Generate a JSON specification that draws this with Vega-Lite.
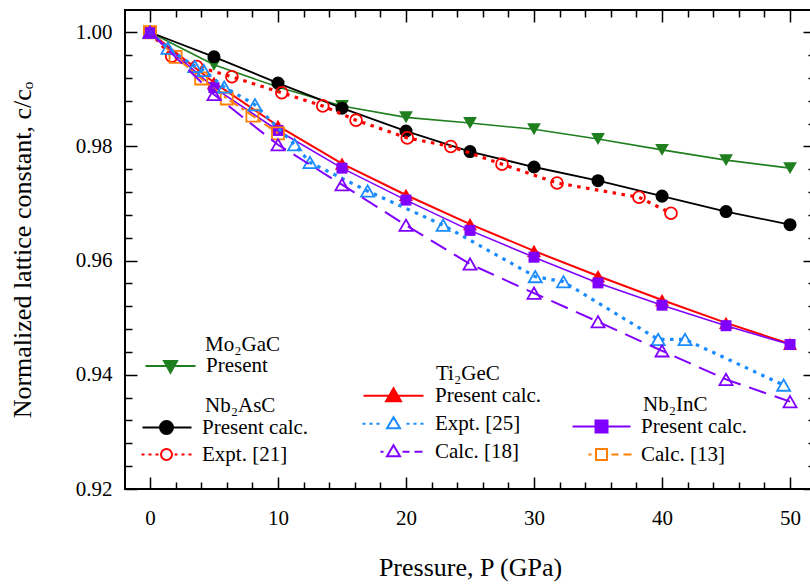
{
  "$schema": "https://vega.github.io/schema/vega-lite/v6.json",
  "width": 690,
  "height": 479,
  "autosize": {"type": "none"},
  "padding": {"left": 125, "top": 10, "right": -5, "bottom": 98},
  "datasets": {
    "d": [
      {"s": "MoP", "P": 0, "v": 1.0}, {"s": "MoP", "P": 5, "v": 0.9943}, {"s": "MoP", "P": 10, "v": 0.9904}, {"s": "MoP", "P": 15, "v": 0.9871}, {"s": "MoP", "P": 20, "v": 0.9851}, {"s": "MoP", "P": 25, "v": 0.9841}, {"s": "MoP", "P": 30, "v": 0.983}, {"s": "MoP", "P": 35, "v": 0.9813}, {"s": "MoP", "P": 40, "v": 0.9794}, {"s": "MoP", "P": 45, "v": 0.9776}, {"s": "MoP", "P": 50, "v": 0.9762},
      {"s": "AsP", "P": 0, "v": 1.0}, {"s": "AsP", "P": 5, "v": 0.9957}, {"s": "AsP", "P": 10, "v": 0.9911}, {"s": "AsP", "P": 15, "v": 0.9867}, {"s": "AsP", "P": 20, "v": 0.9827}, {"s": "AsP", "P": 25, "v": 0.9791}, {"s": "AsP", "P": 30, "v": 0.9764}, {"s": "AsP", "P": 35, "v": 0.974}, {"s": "AsP", "P": 40, "v": 0.9713}, {"s": "AsP", "P": 45, "v": 0.9686}, {"s": "AsP", "P": 50, "v": 0.9663},
      {"s": "AsE", "P": 0, "v": 1.0}, {"s": "AsE", "P": 1.7, "v": 0.9958}, {"s": "AsE", "P": 3.65, "v": 0.994}, {"s": "AsE", "P": 6.4, "v": 0.9922}, {"s": "AsE", "P": 10.3, "v": 0.9894}, {"s": "AsE", "P": 13.5, "v": 0.9871}, {"s": "AsE", "P": 16.1, "v": 0.9846}, {"s": "AsE", "P": 20.1, "v": 0.9815}, {"s": "AsE", "P": 23.5, "v": 0.98}, {"s": "AsE", "P": 27.5, "v": 0.9769}, {"s": "AsE", "P": 31.8, "v": 0.9736}, {"s": "AsE", "P": 38.2, "v": 0.9711}, {"s": "AsE", "P": 40.7, "v": 0.9683},
      {"s": "TiP", "P": 0, "v": 1.0}, {"s": "TiP", "P": 5, "v": 0.9912}, {"s": "TiP", "P": 10, "v": 0.9836}, {"s": "TiP", "P": 15, "v": 0.977}, {"s": "TiP", "P": 20, "v": 0.9715}, {"s": "TiP", "P": 25, "v": 0.9664}, {"s": "TiP", "P": 30, "v": 0.9617}, {"s": "TiP", "P": 35, "v": 0.9573}, {"s": "TiP", "P": 40, "v": 0.9531}, {"s": "TiP", "P": 45, "v": 0.9491}, {"s": "TiP", "P": 50, "v": 0.9454},
      {"s": "InP", "P": 0, "v": 1.0}, {"s": "InP", "P": 5, "v": 0.9903}, {"s": "InP", "P": 10, "v": 0.9828}, {"s": "InP", "P": 15, "v": 0.9762}, {"s": "InP", "P": 20, "v": 0.9706}, {"s": "InP", "P": 25, "v": 0.9653}, {"s": "InP", "P": 30, "v": 0.9606}, {"s": "InP", "P": 35, "v": 0.9561}, {"s": "InP", "P": 40, "v": 0.9522}, {"s": "InP", "P": 45, "v": 0.9486}, {"s": "InP", "P": 50, "v": 0.9453},
      {"s": "InC", "P": 0, "v": 1.0}, {"s": "InC", "P": 2, "v": 0.9957}, {"s": "InC", "P": 4, "v": 0.9919}, {"s": "InC", "P": 6, "v": 0.9884}, {"s": "InC", "P": 8, "v": 0.9854}, {"s": "InC", "P": 10, "v": 0.9823},
      {"s": "TiE", "P": 0, "v": 1.0}, {"s": "TiE", "P": 1.4, "v": 0.9972}, {"s": "TiE", "P": 3.5, "v": 0.994}, {"s": "TiE", "P": 4.2, "v": 0.9933}, {"s": "TiE", "P": 5.8, "v": 0.9904}, {"s": "TiE", "P": 8.2, "v": 0.9873}, {"s": "TiE", "P": 11.3, "v": 0.9803}, {"s": "TiE", "P": 12.5, "v": 0.9772}, {"s": "TiE", "P": 17.0, "v": 0.9722}, {"s": "TiE", "P": 22.9, "v": 0.9662}, {"s": "TiE", "P": 30.1, "v": 0.9572}, {"s": "TiE", "P": 32.3, "v": 0.9563}, {"s": "TiE", "P": 39.7, "v": 0.9462}, {"s": "TiE", "P": 41.8, "v": 0.9462}, {"s": "TiE", "P": 49.5, "v": 0.9382},
      {"s": "TiC", "P": 0, "v": 1.0}, {"s": "TiC", "P": 5, "v": 0.9891}, {"s": "TiC", "P": 10, "v": 0.9803}, {"s": "TiC", "P": 15, "v": 0.9733}, {"s": "TiC", "P": 20, "v": 0.9662}, {"s": "TiC", "P": 25, "v": 0.9594}, {"s": "TiC", "P": 30, "v": 0.9543}, {"s": "TiC", "P": 35, "v": 0.9493}, {"s": "TiC", "P": 40, "v": 0.9442}, {"s": "TiC", "P": 45, "v": 0.9392}, {"s": "TiC", "P": 50, "v": 0.9353}
    ]
  },
  "layer": [
    {
      "data": {"name": "d"},
      "mark": {"type": "point", "opacity": 0},
      "encoding": {
        "x": {"field": "P", "type": "quantitative", "scale": {"domain": [-1.95, 51.95], "nice": false, "zero": false},
              "axis": {"orient": "bottom", "values": [0, 10, 20, 30, 40, 50], "tickSize": -12, "labelPadding": 30, "title": "Pressure, P (GPa)", "titlePadding": 26}},
        "y": {"field": "v", "type": "quantitative", "scale": {"domain": [0.92, 1.0039], "nice": false, "zero": false},
              "axis": {"orient": "left", "values": [0.92, 0.94, 0.96, 0.98, 1.0], "format": ".2f", "tickSize": -12, "labelPadding": 25, "title": "Normalized lattice constant, c/cₒ", "titlePadding": 40}}
      }
    },
    {
      "data": {"name": "d"},
      "mark": {"type": "point", "opacity": 0},
      "encoding": {
        "x": {"field": "P", "type": "quantitative", "scale": {"domain": [-1.95, 51.95], "nice": false, "zero": false},
              "axis": {"orient": "bottom", "values": [2, 4, 6, 8, 12, 14, 16, 18, 22, 24, 26, 28, 32, 34, 36, 38, 42, 44, 46, 48], "tickSize": -7, "labels": false, "title": null}},
        "y": {"field": "v", "type": "quantitative", "scale": {"domain": [0.92, 1.0039], "nice": false, "zero": false},
              "axis": {"orient": "left", "values": [0.924, 0.928, 0.932, 0.936, 0.944, 0.948, 0.952, 0.956, 0.964, 0.968, 0.972, 0.976, 0.984, 0.988, 0.992, 0.996], "tickSize": -7, "labels": false, "title": null}}
      }
    },
    {
      "data": {"name": "d"},
      "mark": {"type": "point", "opacity": 0},
      "encoding": {
        "x": {"field": "P", "type": "quantitative", "scale": {"domain": [-1.95, 51.95], "nice": false, "zero": false},
              "axis": {"orient": "top", "values": [0, 10, 20, 30, 40, 50], "tickSize": -12, "labels": false, "title": null}},
        "y": {"field": "v", "type": "quantitative", "scale": {"domain": [0.92, 1.0039], "nice": false, "zero": false},
              "axis": {"orient": "right", "values": [0.92, 0.94, 0.96, 0.98, 1.0], "tickSize": -12, "labels": false, "title": null}}
      }
    },
    {
      "data": {"name": "d"},
      "mark": {"type": "point", "opacity": 0},
      "encoding": {
        "x": {"field": "P", "type": "quantitative", "scale": {"domain": [-1.95, 51.95], "nice": false, "zero": false},
              "axis": {"orient": "top", "values": [2, 4, 6, 8, 12, 14, 16, 18, 22, 24, 26, 28, 32, 34, 36, 38, 42, 44, 46, 48], "tickSize": -7, "labels": false, "title": null}},
        "y": {"field": "v", "type": "quantitative", "scale": {"domain": [0.92, 1.0039], "nice": false, "zero": false},
              "axis": {"orient": "right", "values": [0.924, 0.928, 0.932, 0.936, 0.944, 0.948, 0.952, 0.956, 0.964, 0.968, 0.972, 0.976, 0.984, 0.988, 0.992, 0.996], "tickSize": -7, "labels": false, "title": null}}
      }
    },
    {
      "data": {"name": "d"},
      "transform": [{"filter": "datum.s === 'MoP'"}],
      "encoding": {
        "x": {"field": "P", "type": "quantitative", "axis": null, "scale": {"domain": [-1.95, 51.95], "nice": false, "zero": false}},
        "y": {"field": "v", "type": "quantitative", "axis": null, "scale": {"domain": [0.92, 1.0039], "nice": false, "zero": false}}
      },
      "layer": [
        {"mark": {"type": "line", "color": "#1f7f1f", "strokeWidth": 1.6}},
        {"mark": {"type": "point", "shape": "triangle-down", "filled": true, "color": "#1f7f1f", "size": 190, "opacity": 1}}
      ]
    },
    {
      "data": {"name": "d"},
      "transform": [{"filter": "datum.s === 'AsP'"}],
      "encoding": {
        "x": {"field": "P", "type": "quantitative", "axis": null, "scale": {"domain": [-1.95, 51.95], "nice": false, "zero": false}},
        "y": {"field": "v", "type": "quantitative", "axis": null, "scale": {"domain": [0.92, 1.0039], "nice": false, "zero": false}}
      },
      "layer": [
        {"mark": {"type": "line", "color": "black", "strokeWidth": 1.8}},
        {"mark": {"type": "point", "shape": "circle", "filled": true, "color": "black", "size": 170, "opacity": 1}}
      ]
    },
    {
      "data": {"name": "d"},
      "transform": [{"filter": "datum.s === 'AsE'"}],
      "encoding": {
        "x": {"field": "P", "type": "quantitative", "axis": null, "scale": {"domain": [-1.95, 51.95], "nice": false, "zero": false}},
        "y": {"field": "v", "type": "quantitative", "axis": null, "scale": {"domain": [0.92, 1.0039], "nice": false, "zero": false}}
      },
      "layer": [
        {"mark": {"type": "line", "color": "#ff0000", "strokeWidth": 3.2, "strokeDash": [3.5, 5.5]}},
        {"mark": {"type": "point", "shape": "circle", "filled": false, "color": "#ff0000", "size": 140, "strokeWidth": 1.8, "opacity": 1}}
      ]
    },
    {
      "data": {"name": "d"},
      "transform": [{"filter": "datum.s === 'TiP'"}],
      "encoding": {
        "x": {"field": "P", "type": "quantitative", "axis": null, "scale": {"domain": [-1.95, 51.95], "nice": false, "zero": false}},
        "y": {"field": "v", "type": "quantitative", "axis": null, "scale": {"domain": [0.92, 1.0039], "nice": false, "zero": false}}
      },
      "layer": [
        {"mark": {"type": "line", "color": "#ff0000", "strokeWidth": 2}},
        {"mark": {"type": "point", "shape": "triangle-up", "filled": true, "color": "#ff0000", "size": 200, "opacity": 1}}
      ]
    },
    {
      "data": {"name": "d"},
      "transform": [{"filter": "datum.s === 'InP'"}],
      "encoding": {
        "x": {"field": "P", "type": "quantitative", "axis": null, "scale": {"domain": [-1.95, 51.95], "nice": false, "zero": false}},
        "y": {"field": "v", "type": "quantitative", "axis": null, "scale": {"domain": [0.92, 1.0039], "nice": false, "zero": false}}
      },
      "layer": [
        {"mark": {"type": "line", "color": "#8000ff", "strokeWidth": 1.6}},
        {"mark": {"type": "point", "shape": "square", "filled": true, "color": "#8000ff", "size": 121, "opacity": 1}}
      ]
    },
    {
      "data": {"name": "d"},
      "transform": [{"filter": "datum.s === 'InC'"}],
      "encoding": {
        "x": {"field": "P", "type": "quantitative", "axis": null, "scale": {"domain": [-1.95, 51.95], "nice": false, "zero": false}},
        "y": {"field": "v", "type": "quantitative", "axis": null, "scale": {"domain": [0.92, 1.0039], "nice": false, "zero": false}}
      },
      "layer": [
        {"mark": {"type": "line", "color": "#ff8000", "strokeWidth": 2, "strokeDash": [10, 4, 3, 4]}},
        {"mark": {"type": "point", "shape": "square", "filled": false, "color": "#ff8000", "size": 144, "strokeWidth": 1.8, "opacity": 1}}
      ]
    },
    {
      "data": {"name": "d"},
      "transform": [{"filter": "datum.s === 'TiE'"}],
      "encoding": {
        "x": {"field": "P", "type": "quantitative", "axis": null, "scale": {"domain": [-1.95, 51.95], "nice": false, "zero": false}},
        "y": {"field": "v", "type": "quantitative", "axis": null, "scale": {"domain": [0.92, 1.0039], "nice": false, "zero": false}}
      },
      "layer": [
        {"mark": {"type": "line", "color": "#1a8cff", "strokeWidth": 3.2, "strokeDash": [3.5, 5.5]}},
        {"mark": {"type": "point", "shape": "triangle-up", "filled": false, "color": "#1a8cff", "size": 170, "strokeWidth": 1.8, "opacity": 1}}
      ]
    },
    {
      "data": {"name": "d"},
      "transform": [{"filter": "datum.s === 'TiC'"}],
      "encoding": {
        "x": {"field": "P", "type": "quantitative", "axis": null, "scale": {"domain": [-1.95, 51.95], "nice": false, "zero": false}},
        "y": {"field": "v", "type": "quantitative", "axis": null, "scale": {"domain": [0.92, 1.0039], "nice": false, "zero": false}}
      },
      "layer": [
        {"mark": {"type": "line", "color": "#8000ff", "strokeWidth": 2, "strokeDash": [18, 9]}},
        {"mark": {"type": "point", "shape": "triangle-up", "filled": false, "color": "#8000ff", "size": 170, "strokeWidth": 1.8, "opacity": 1}}
      ]
    },
    {
      "data": {"values": []},
      "mark": {"type": "point", "size": 4, "opacity": 1, "strokeWidth": 2},
      "encoding": {
        "shape": {"field": "label", "type": "nominal", "scale": {"domain": ["Present"], "range": ["M-25,0H25M-6.5,-5L6.5,-5L0,6.5Z"]},
                  "legend": {"title": "Mo₂GaC", "orient": "none", "legendX": 80, "legendY": 323.6, "symbolOffset": -45, "labelOffset": 25}},
        "stroke": {"field": "label", "type": "nominal", "scale": {"domain": ["Present"], "range": ["#1f7f1f"]}},
        "fill": {"field": "label", "type": "nominal", "scale": {"domain": ["Present"], "range": ["#1f7f1f"]}}
      }
    },
    {
      "data": {"values": []},
      "mark": {"type": "point", "size": 4, "opacity": 1, "strokeWidth": 2},
      "encoding": {
        "shape": {"field": "label", "type": "nominal", "scale": {"domain": ["Present calc.", "Expt. [21]"], "range": ["M-24,0H25M-6.5,0A6.5,6.5 0 1,0 6.5,0A6.5,6.5 0 1,0 -6.5,0Z", "M-25,0H-22M-18,0H-15M-11,0H-8M8,0H11M15,0H18M22,0H25M-5.5,0A5.5,5.5 0 1,0 5.5,0A5.5,5.5 0 1,0 -5.5,0Z"]},
                  "legend": {"title": "Nb₂AsC", "orient": "none", "legendX": 80, "legendY": 385, "symbolOffset": -49, "labelOffset": 25, "rowPadding": 5}},
        "stroke": {"field": "label", "type": "nominal", "scale": {"domain": ["Present calc.", "Expt. [21]"], "range": ["black", "#ff0000"]}},
        "fill": {"field": "label", "type": "nominal", "scale": {"domain": ["Present calc.", "Expt. [21]"], "range": ["black", "transparent"]}}
      }
    },
    {
      "data": {"values": []},
      "mark": {"type": "point", "size": 4, "opacity": 1, "strokeWidth": 2},
      "encoding": {
        "shape": {"field": "label", "type": "nominal", "scale": {"domain": ["Present calc.", "Expt. [25]", "Calc. [18]"], "range": ["M-30,0H30M-7.5,5.5L7.5,5.5L0,-7.5Z", "M-31,0H-28M-24,0H-21M-17,0H-14M13,0H16M20,0H23M27,0H30M-6.5,4.5L6.5,4.5L0,-6.5Z", "M-13,0H-10M9,0H16M21,0H29M-6.5,4.5L6.5,4.5L0,-6.5Z"]},
                  "legend": {"title": "Ti₂GeC", "orient": "none", "legendX": 311, "legendY": 353.3, "symbolOffset": -53, "labelOffset": 31}},
        "stroke": {"field": "label", "type": "nominal", "scale": {"domain": ["Present calc.", "Expt. [25]", "Calc. [18]"], "range": ["#ff0000", "#1a8cff", "#8000ff"]}},
        "fill": {"field": "label", "type": "nominal", "scale": {"domain": ["Present calc.", "Expt. [25]", "Calc. [18]"], "range": ["#ff0000", "transparent", "transparent"]}}
      }
    },
    {
      "data": {"values": []},
      "mark": {"type": "point", "size": 4, "opacity": 1, "strokeWidth": 2},
      "encoding": {
        "shape": {"field": "label", "type": "nominal", "scale": {"domain": ["Present calc.", "Calc. [13]"], "range": ["M-29,0H29M-6,-6H6V6H-6Z", "M-13,0H-10M10,0H17M22,0H30M-5.5,-5.5H5.5V5.5H-5.5Z"]},
                  "legend": {"title": "Nb₂InC", "orient": "none", "legendX": 518, "legendY": 384, "symbolOffset": -52, "labelOffset": 29}},
        "stroke": {"field": "label", "type": "nominal", "scale": {"domain": ["Present calc.", "Calc. [13]"], "range": ["#8000ff", "#ff8000"]}},
        "fill": {"field": "label", "type": "nominal", "scale": {"domain": ["Present calc.", "Calc. [13]"], "range": ["#8000ff", "transparent"]}}
      }
    }
  ],
  "resolve": {
    "axis": {"x": "independent", "y": "independent"},
    "scale": {"shape": "independent", "stroke": "independent", "fill": "independent"}
  },
  "config": {
    "view": {"stroke": "black", "strokeWidth": 2},
    "axis": {"labelFont": "Liberation Serif", "titleFont": "Liberation Serif", "labelFontSize": 21, "titleFontSize": 26, "titleFontWeight": "normal", "labelColor": "black", "titleColor": "black", "tickColor": "black", "tickWidth": 1.5, "domain": false, "grid": false, "labelFlush": false},
    "legend": {"labelFont": "Liberation Serif", "titleFont": "Liberation Serif", "labelFontSize": 21, "titleFontSize": 21, "titleFontWeight": "normal", "labelColor": "black", "titleColor": "black", "padding": 0, "symbolSize": 4, "symbolStrokeWidth": 2, "rowPadding": 6, "titlePadding": 1, "labelLimit": 300}
  }
}
